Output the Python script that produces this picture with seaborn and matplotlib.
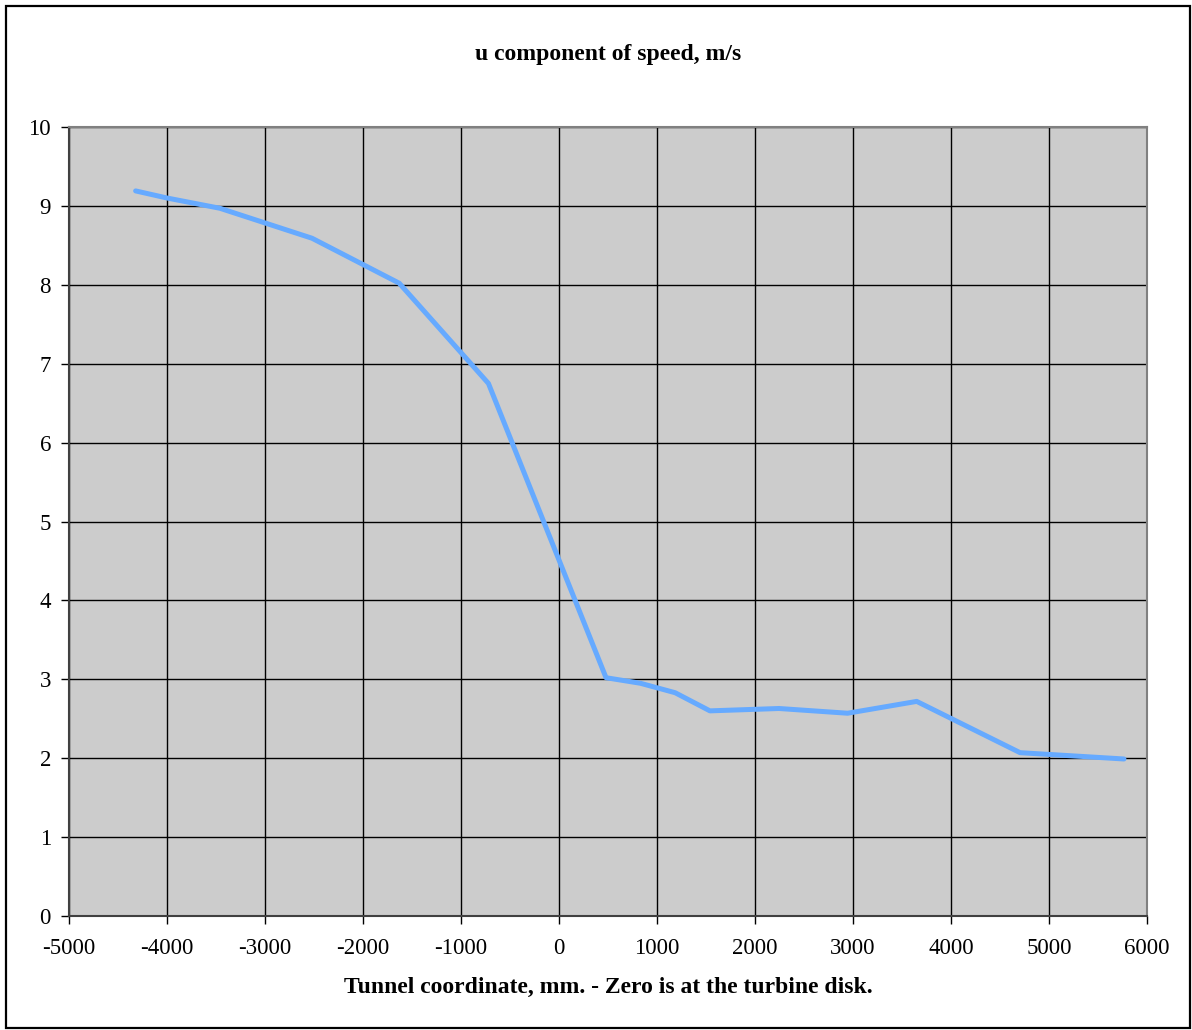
import matplotlib
matplotlib.use("Agg")
import matplotlib.pyplot as plt
import pandas as pd
import seaborn as sns
from matplotlib.patches import Rectangle

# tunnel coordinate (mm) and u component of speed (m/s)
coord_mm = [-4320, -4000, -3460, -2520, -1630, -720, 480, 830, 1185, 1540,
            2245, 2945, 3650, 4705, 5765]
u_speed = [9.19, 9.10, 8.97, 8.59, 8.02, 6.75, 3.02, 2.95, 2.83, 2.60,
           2.63, 2.57, 2.72, 2.07, 1.99]

x_ticks = list(range(-5000, 6001, 1000))
y_ticks = list(range(0, 11))

df = pd.DataFrame({"coord": coord_mm, "u": u_speed})

sns.set_style("whitegrid", {
    "axes.facecolor": "#cccccc",
    "grid.color": "black",
    "axes.edgecolor": "#808080",
    "text.color": "black",
    "xtick.color": "black",
    "ytick.color": "black",
    "axes.labelcolor": "black",
})
plt.rcParams["font.family"] = ["Liberation Serif", "DejaVu Serif"]
plt.rcParams["axes.unicode_minus"] = False

fig = plt.figure(figsize=(11.92, 10.30), dpi=100)
ax = fig.add_axes([69 / 1192, 1 - 916 / 1030, (1147 - 69) / 1192, (916 - 127) / 1030])

sns.lineplot(data=df, x="coord", y="u", color="#66aaff", linewidth=3.6,
             ax=ax, sort=False)

ax.set_xlim(-5000, 6000)
ax.set_ylim(0, 10)
ax.set_xticks(x_ticks)
ax.set_yticks(y_ticks)
ax.grid(True, color="black", linewidth=1.0)
for side in ["top", "right"]:
    ax.spines[side].set_color("#808080")
    ax.spines[side].set_linewidth(1.5)
for side in ["left", "bottom"]:
    ax.spines[side].set_color("#404040")
    ax.spines[side].set_linewidth(1.5)
ax.tick_params(axis="both", which="major", direction="out", length=6,
               width=1, color="black", labelsize=16.5, labelcolor="black",
               bottom=True, left=True)
ax.tick_params(axis="x", pad=10)
ax.tick_params(axis="y", pad=7)
ax.set_xlabel("Tunnel coordinate, mm. - Zero is at the turbine disk.",
              fontsize=17, fontweight="bold", labelpad=13, color="black")
ax.set_ylabel("")
ax.set_title("u component of speed, m/s", fontsize=17, fontweight="bold",
             pad=48, color="black")

fig.patches.append(Rectangle((6 / 1192, 2 / 1030), 1184 / 1192, 1022 / 1030,
                             transform=fig.transFigure, fill=False,
                             edgecolor="black", linewidth=1.6))

fig.savefig("out.png", dpi=100)
